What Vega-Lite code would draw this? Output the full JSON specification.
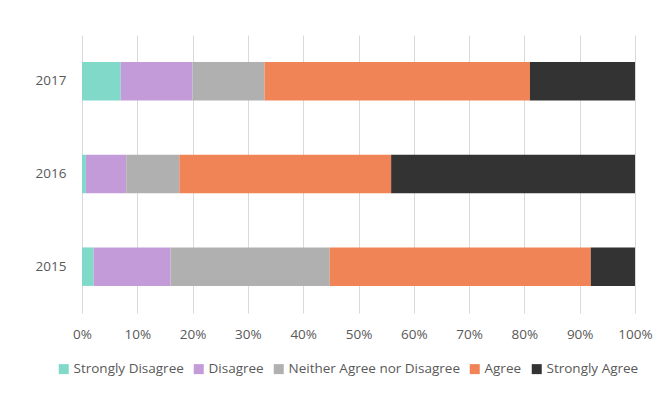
{
  "$schema": "https://vega.github.io/schema/vega-lite/v6.json",
  "autosize": {"type": "none"},
  "width": 553,
  "height": 278,
  "padding": {"left": 82, "top": 35, "right": 20, "bottom": 85},
  "background": "white",
  "data": {"values": [
    {"year": "2017", "response": "Strongly Disagree", "rank": 1, "pct": 7},
    {"year": "2017", "response": "Disagree", "rank": 2, "pct": 13},
    {"year": "2017", "response": "Neither Agree nor Disagree", "rank": 3, "pct": 13},
    {"year": "2017", "response": "Agree", "rank": 4, "pct": 48},
    {"year": "2017", "response": "Strongly Agree", "rank": 5, "pct": 19},
    {"year": "2016", "response": "Strongly Disagree", "rank": 1, "pct": 0.7},
    {"year": "2016", "response": "Disagree", "rank": 2, "pct": 7.3},
    {"year": "2016", "response": "Neither Agree nor Disagree", "rank": 3, "pct": 9.6},
    {"year": "2016", "response": "Agree", "rank": 4, "pct": 38.3},
    {"year": "2016", "response": "Strongly Agree", "rank": 5, "pct": 44.1},
    {"year": "2015", "response": "Strongly Disagree", "rank": 1, "pct": 2.1},
    {"year": "2015", "response": "Disagree", "rank": 2, "pct": 13.9},
    {"year": "2015", "response": "Neither Agree nor Disagree", "rank": 3, "pct": 28.8},
    {"year": "2015", "response": "Agree", "rank": 4, "pct": 47.2},
    {"year": "2015", "response": "Strongly Agree", "rank": 5, "pct": 8}
  ]},
  "mark": {"type": "bar"},
  "encoding": {
    "y": {
      "field": "year", "type": "nominal",
      "sort": ["2017", "2016", "2015"],
      "scale": {"paddingInner": 0.585, "paddingOuter": 0.2925},
      "axis": {"title": null, "domain": false, "ticks": false, "labelPadding": 16, "labelFontSize": 13.5, "labelColor": "#595959", "labelFont": "Open Sans", "grid": false}
    },
    "x": {
      "field": "pct", "type": "quantitative", "stack": "normalize",
      "scale": {"domain": [0, 1], "nice": false},
      "axis": {"title": null, "format": ".0%", "values": [0,0.1,0.2,0.3,0.4,0.5,0.6,0.7,0.8,0.9,1], "labelOverlap": false, "labelFlush": false, "domain": false, "ticks": false, "labelPadding": 14, "labelFontSize": 13.5, "labelColor": "#595959", "labelFont": "Open Sans", "grid": true, "gridColor": "#d9d9d9", "gridWidth": 1}
    },
    "color": {
      "field": "response", "type": "nominal",
      "scale": {
        "domain": ["Strongly Disagree", "Disagree", "Neither Agree nor Disagree", "Agree", "Strongly Agree"],
        "range": ["#80d9c9", "#c39bd9", "#b0b0b0", "#f08456", "#333333"]
      },
      "legend": {
        "title": null, "orient": "none", "direction": "horizontal",
        "legendX": -25, "legendY": 327,
        "symbolType": "square", "symbolSize": 100, "symbolStrokeWidth": 0,
        "labelFontSize": 13.5, "labelColor": "#595959", "labelFont": "Open Sans",
        "labelOffset": 3, "columnPadding": 8, "labelLimit": 300
      }
    },
    "order": {"field": "rank", "type": "quantitative"}
  },
  "config": {"view": {"stroke": null}}
}
